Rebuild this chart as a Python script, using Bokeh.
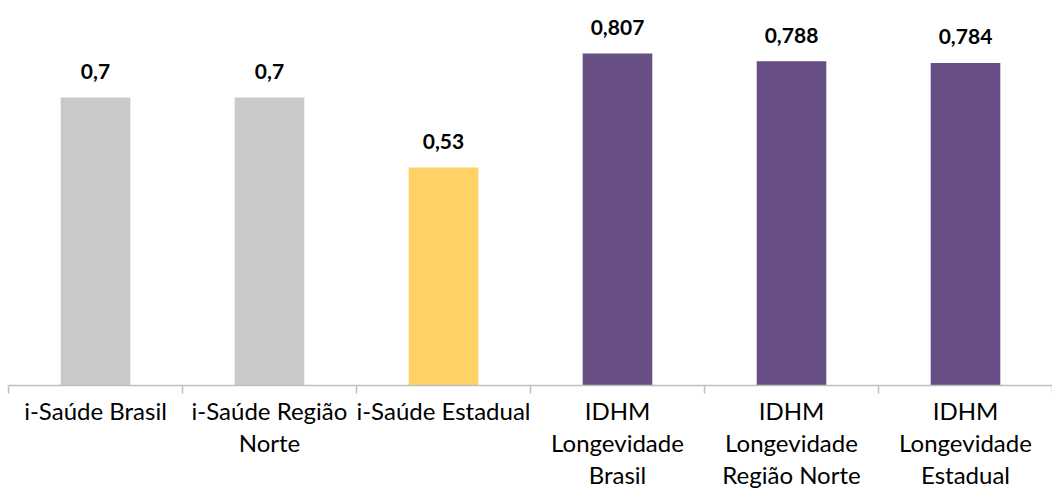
from bokeh.plotting import figure
from bokeh.models import ColumnDataSource, FixedTicker, Range1d
from bokeh.core.properties import value
from bokeh.embed import file_html
from bokeh.resources import INLINE

categories = ["i-Saúde Brasil", "i-Saúde Região\nNorte", "i-Saúde Estadual",
              "IDHM\nLongevidade\nBrasil", "IDHM\nLongevidade\nRegião Norte",
              "IDHM\nLongevidade\nEstadual"]
values = [0.7, 0.7, 0.53, 0.807, 0.788, 0.784]
colors = ["#C8C9CB", "#C8C9CB", "#FFD166", "#674E85", "#674E85", "#674E85"]

xs = [i + 0.5 for i in range(len(categories))]
labels = [str(v).replace(".", ",") for v in values]

src = ColumnDataSource(dict(x=xs, top=values, color=colors, label=labels))

W, H = 1052, 493
frame_h = 385
p = figure(width=W, height=H, output_backend="svg", toolbar_location=None,
           x_range=Range1d(0, len(categories)), y_range=Range1d(0, frame_h / 411.4),
           min_border_left=8, min_border_right=0, min_border_top=0,
           min_border_bottom=H - frame_h)
p.outline_line_color = None
p.grid.grid_line_color = None
p.yaxis.visible = False
p.background_fill_color = "white"
p.border_fill_color = "white"

p.vbar(x="x", top="top", width=0.4, bottom=0, color="color", line_color=None, source=src)
p.text(x="x", y="top", text="label", source=src, text_align="center",
       text_baseline="alphabetic", y_offset=-26, text_font=value("Lato"),
       text_font_style="bold", text_font_size="21px", text_color="black")

ax = p.xaxis[0]
ax.ticker = FixedTicker(ticks=xs, minor_ticks=list(range(len(categories) + 1)))
ax.major_label_overrides = {x: c for x, c in zip(xs, categories)}
ax.axis_line_color = "#BFBFBF"
ax.axis_line_width = 1.5
ax.major_tick_line_color = None
ax.minor_tick_line_color = "#BFBFBF"
ax.minor_tick_line_width = 1.5
ax.minor_tick_out = 8
ax.minor_tick_in = 0
ax.major_tick_out = 0
ax.major_tick_in = 0
ax.major_label_standoff = 2
ax.major_label_text_font = "Lato"
ax.major_label_text_font_size = "24px"
ax.major_label_text_color = "black"
ax.major_label_text_line_height = 1.12

open("out.html", "w").write(file_html(p, INLINE))
